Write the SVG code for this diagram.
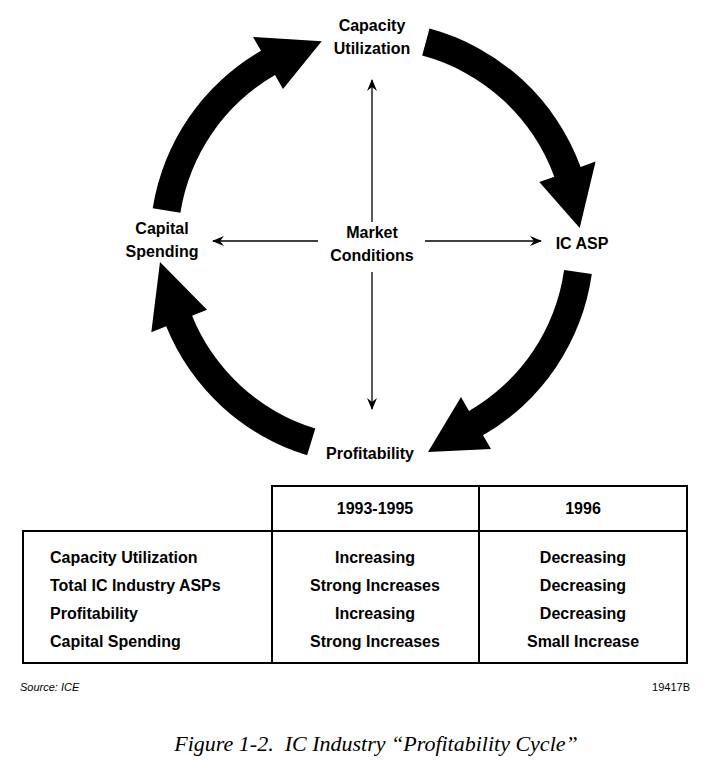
<svg xmlns="http://www.w3.org/2000/svg" width="720" height="775" viewBox="0 0 720 775">
<style>
text{font-family:"Liberation Sans",Arial,sans-serif;font-weight:bold;font-size:16px;fill:#000;text-anchor:middle}
.l{text-anchor:start}
.src{font-size:11px;font-weight:normal;font-style:italic;text-anchor:start}
.id{font-size:11px;font-weight:normal;text-anchor:end}
.cap{font-family:"Liberation Serif",serif;font-style:italic;font-size:22px;font-weight:normal}
.big{fill:#000}
.ln{stroke:#000;stroke-width:1.3;fill:none;marker-end:url(#ah)}
.tb{stroke:#000;stroke-width:2;fill:none}
</style>
<defs><marker id="ah" viewBox="0 0 12 10" refX="11" refY="5" markerWidth="12" markerHeight="10" markerUnits="userSpaceOnUse" orient="auto"><path d="M0,0 L12,5 L0,10 L4,5 Z"/></marker></defs>
<rect width="720" height="775" fill="#fff"/>
<g id="connectors">
<path class="big" d="M152.7,208.3 A222,222 0 0 1 261,50.7 L253,36.9 L321.7,41.2 L283,88.9 L275,75 A194,194 0 0 0 180.4,212.7 Z"/>
<path class="big" d="M429.5,28.6 A222,222 0 0 1 580.6,167.1 L595.6,161.6 L579.7,228 L539.3,182.1 L554.3,176.7 A194,194 0 0 0 422.2,55.6 Z"/>
<path class="big" d="M591.8,273.9 A222,222 0 0 1 483,435.3 L491,449.1 L428,452 L461,397.1 L469,411 A194,194 0 0 0 564.1,270 Z"/>
<path class="big" d="M307.1,455.3 A222,222 0 0 1 166.2,326.2 L151.3,332.2 L160,262 L207,309.7 L192.1,315.7 A194,194 0 0 0 315.3,428.5 Z"/>
<line class="ln" x1="372" y1="222" x2="372" y2="80"/>
<line class="ln" x1="372" y1="272" x2="372" y2="409"/>
<line class="ln" x1="318" y1="241" x2="213" y2="241"/>
<line class="ln" x1="425" y1="241" x2="541" y2="241"/>
</g>
<g id="capacity"><text x="372" y="31">Capacity</text><text x="372" y="54">Utilization</text></g>
<g id="capital"><text x="162" y="234">Capital</text><text x="162" y="257">Spending</text></g>
<g id="market"><text x="372" y="238">Market</text><text x="372" y="261">Conditions</text></g>
<g id="icasp"><text x="582" y="249">IC ASP</text></g>
<g id="profit"><text x="370" y="459">Profitability</text></g>
<g id="table">
<path class="tb" d="M272,531 V486 H687 V663 H23 V531 H687 M272,531 V663 M479,486 V663"/>
<text x="375" y="514">1993-1995</text><text x="583" y="514">1996</text>
<text class="l" x="50" y="563">Capacity Utilization</text>
<text class="l" x="50" y="591">Total IC Industry ASPs</text>
<text class="l" x="50" y="619">Profitability</text>
<text class="l" x="50" y="647">Capital Spending</text>
<text x="375" y="563">Increasing</text><text x="375" y="591">Strong Increases</text><text x="375" y="619">Increasing</text><text x="375" y="647">Strong Increases</text>
<text x="583" y="563">Decreasing</text><text x="583" y="591">Decreasing</text><text x="583" y="619">Decreasing</text><text x="583" y="647">Small Increase</text>
</g>
<text class="src" x="20" y="691">Source: ICE</text>
<text class="id" x="690" y="691">19417B</text>
<text class="cap" x="376" y="751" xml:space="preserve">Figure 1-2.  IC Industry “Profitability Cycle”</text>
</svg>
